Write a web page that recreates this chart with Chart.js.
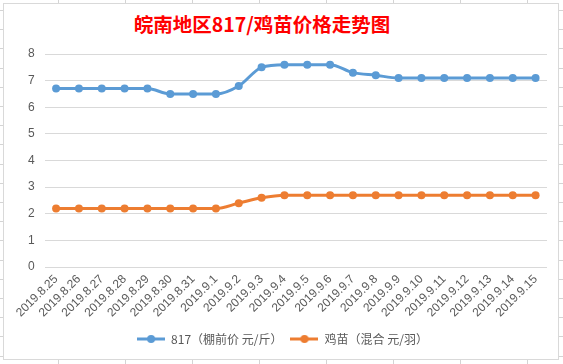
<!DOCTYPE html>
<html>
<head>
<meta charset="utf-8">
<script src="https://cdn.jsdelivr.net/npm/chart.js@4.4.1/dist/chart.umd.min.js"></script>
<style>
  html,body{margin:0;padding:0;}
  body{width:563px;height:364px;overflow:hidden;position:relative;background:#fff;}
  .vg{position:absolute;top:0;width:1px;height:364px;background:#d4d4d4;}
  .hg{position:absolute;left:0;height:1px;width:563px;background:#d4d4d4;}
  #box{position:absolute;left:3px;top:3px;width:554px;height:355px;background:#fff;border:1px solid #d9d9d9;}
  #title{position:absolute;left:0;top:7px;width:516px;text-align:center;color:#ff0000;font:bold 19.5px "Noto Sans CJK SC",sans-serif;line-height:26px;}
  canvas{position:absolute;left:0;top:0;}
</style>
</head>
<body>
<div id="grid"></div>
<div id="box">
  <div id="title">皖南地区817/鸡苗价格走势图</div>
  <canvas id="c" width="554" height="355"></canvas>
</div>
<script>
const categories = ["2019.8.25","2019.8.26","2019.8.27","2019.8.28","2019.8.29","2019.8.30","2019.8.31","2019.9.1","2019.9.2","2019.9.3","2019.9.4","2019.9.5","2019.9.6","2019.9.7","2019.9.8","2019.9.9","2019.9.10","2019.9.11","2019.9.12","2019.9.13","2019.9.14","2019.9.15"];
const series817 = [6.7,6.7,6.7,6.7,6.7,6.5,6.5,6.5,6.8,7.5,7.6,7.6,7.6,7.3,7.2,7.1,7.1,7.1,7.1,7.1,7.1,7.1];
const seriesChick = [2.2,2.2,2.2,2.2,2.2,2.2,2.2,2.2,2.4,2.6,2.7,2.7,2.7,2.7,2.7,2.7,2.7,2.7,2.7,2.7,2.7,2.7];
const seriesNames = ["817（棚前价 元/斤）","鸡苗（混合 元/羽）"];
const yTicks = [0,1,2,3,4,5,6,7,8];

// spreadsheet cell grid behind the chart
const grid = document.getElementById('grid');
for (let x = 58; x < 563; x += 67) { const d = document.createElement('div'); d.className='vg'; d.style.left = x+'px'; grid.appendChild(d); }
for (let y = 10; y < 364; y += 19.2) { const d = document.createElement('div'); d.className='hg'; d.style.top = Math.round(y)+'px'; grid.appendChild(d); }

function legendIcon(color){
  const cv = document.createElement('canvas');
  cv.width = 28; cv.height = 10;
  const g = cv.getContext('2d');
  g.strokeStyle = color; g.lineWidth = 3;
  g.beginPath(); g.moveTo(0,5); g.lineTo(28,5); g.stroke();
  g.fillStyle = color; g.beginPath(); g.arc(14,5,4,0,Math.PI*2); g.fill();
  return cv;
}
const colors = ['#5B9BD5','#ED7D31'];
const icons = colors.map(legendIcon);

new Chart(document.getElementById('c'), {
  type: 'line',
  data: {
    labels: categories,
    datasets: [
      {label: seriesNames[0], data: series817, borderColor: colors[0], backgroundColor: colors[0], borderWidth: 3, pointRadius: 4, pointHoverRadius: 4, pointBorderWidth: 0, tension: 0.3, cubicInterpolationMode: 'monotone'},
      {label: seriesNames[1], data: seriesChick, borderColor: colors[1], backgroundColor: colors[1], borderWidth: 3, pointRadius: 4, pointHoverRadius: 4, pointBorderWidth: 0, tension: 0.3, cubicInterpolationMode: 'monotone'}
    ]
  },
  options: {
    responsive: false,
    animation: false,
    devicePixelRatio: 1,
    layout: {padding: {top: 50, left: 14, right: 11, bottom: 4}},
    plugins: {
      title: {display: false},
      tooltip: {enabled: false},
      legend: {
        position: 'bottom',
        labels: {
          usePointStyle: true,
          pointStyleWidth: 28,
          padding: 8,
          color: '#595959',
          font: {family: '"Noto Sans CJK SC", sans-serif', size: 12},
          generateLabels: (chart) => chart.data.datasets.map((ds, i) => ({
            text: ds.label, fillStyle: colors[i], strokeStyle: colors[i], lineWidth: 0,
            pointStyle: icons[i], datasetIndex: i, hidden: false, fontColor: '#595959'
          }))
        }
      }
    },
    scales: {
      x: {
        offset: true,
        grid: {display: false, drawTicks: false},
        border: {display: false},
        ticks: {color: '#595959', font: {family: '"Liberation Sans", sans-serif', size: 12}, minRotation: 45, maxRotation: 45, autoSkip: false, padding: 5}
      },
      y: {
        min: 0, max: 8,
        afterBuildTicks: (axis) => { axis.ticks = yTicks.map(v => ({value: v})); },
        grid: {color: '#d9d9d9', lineWidth: 1, drawTicks: false},
        border: {display: false},
        ticks: {color: '#595959', font: {family: '"Liberation Sans", sans-serif', size: 12}, padding: 10}
      }
    }
  }
});
</script>
</body>
</html>
